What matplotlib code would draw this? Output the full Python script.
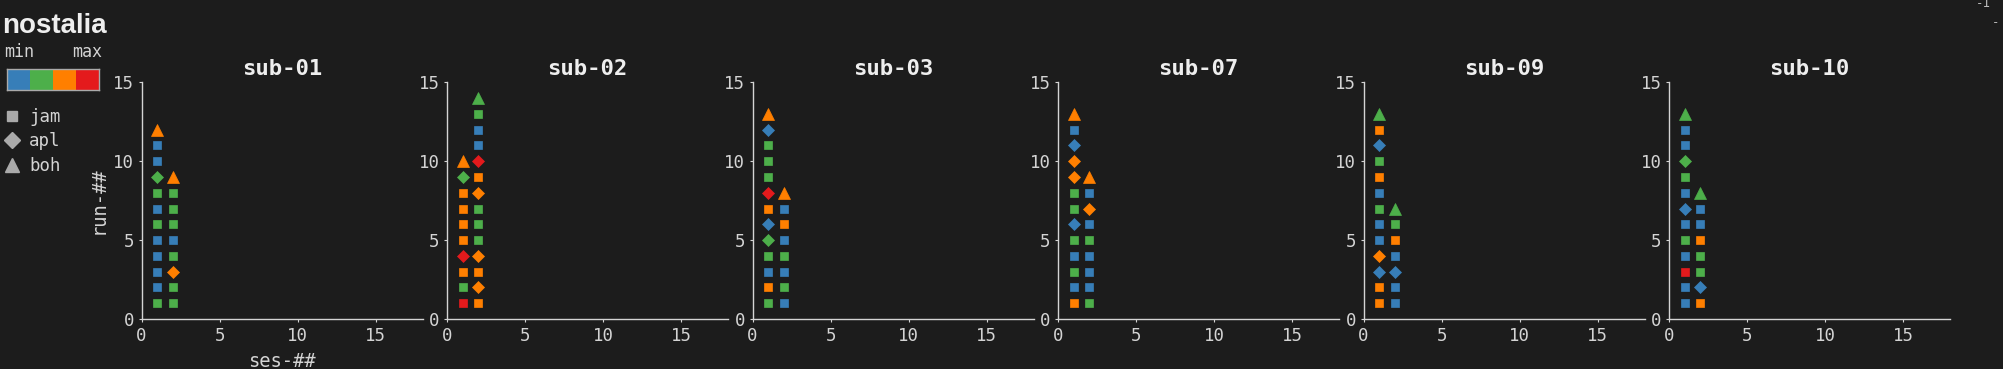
import matplotlib
matplotlib.use("Agg")
import matplotlib.pyplot as plt
from matplotlib.colors import ListedColormap
from matplotlib.lines import Line2D

# ---------------- DATA ----------------
# level: 0=min (blue) .. 3=max (red); task: j=jam, a=apl, b=boh

subjects = ["sub-01", "sub-02", "sub-03", "sub-07", "sub-09", "sub-10"]

sub01_ses1_lvl = [1, 0, 0, 0, 0, 1, 0, 1, 1, 0, 0, 2]
sub01_ses1_task = "jjjjjjjjajjb"
sub01_ses2_lvl = [1, 1, 2, 1, 0, 1, 1, 1, 2]
sub01_ses2_task = "jjajjjjjb"

sub02_ses1_lvl = [3, 1, 2, 3, 2, 2, 2, 2, 1, 2]
sub02_ses1_task = "jjjajjjjab"
sub02_ses2_lvl = [2, 2, 2, 2, 1, 1, 1, 2, 2, 3, 0, 0, 1, 1]
sub02_ses2_task = "jajajjjajajjjb"

sub03_ses1_lvl = [1, 2, 0, 1, 1, 0, 2, 3, 1, 1, 1, 0, 2]
sub03_ses1_task = "jjjjaajajjjab"
sub03_ses2_lvl = [0, 1, 0, 1, 0, 2, 0, 2]
sub03_ses2_task = "jjjjjjjb"

sub07_ses1_lvl = [2, 0, 1, 0, 1, 0, 1, 1, 2, 2, 0, 0, 2]
sub07_ses1_task = "jjjjjajjaaajb"
sub07_ses2_lvl = [1, 0, 0, 0, 1, 0, 2, 0, 2]
sub07_ses2_task = "jjjjjjajb"

sub09_ses1_lvl = [2, 2, 0, 2, 0, 0, 1, 0, 2, 1, 0, 2, 1]
sub09_ses1_task = "jjaajjjjjjajb"
sub09_ses2_lvl = [0, 0, 0, 0, 2, 1, 1]
sub09_ses2_task = "jjajjjb"

sub10_ses1_lvl = [0, 0, 3, 0, 1, 0, 0, 0, 1, 1, 0, 0, 1]
sub10_ses1_task = "jjjjjjajjajjb"
sub10_ses2_lvl = [2, 0, 1, 1, 2, 0, 0, 1]
sub10_ses2_task = "jajjjjjb"

sessions = {
    "sub-01": [(sub01_ses1_lvl, sub01_ses1_task), (sub01_ses2_lvl, sub01_ses2_task)],
    "sub-02": [(sub02_ses1_lvl, sub02_ses1_task), (sub02_ses2_lvl, sub02_ses2_task)],
    "sub-03": [(sub03_ses1_lvl, sub03_ses1_task), (sub03_ses2_lvl, sub03_ses2_task)],
    "sub-07": [(sub07_ses1_lvl, sub07_ses1_task), (sub07_ses2_lvl, sub07_ses2_task)],
    "sub-09": [(sub09_ses1_lvl, sub09_ses1_task), (sub09_ses2_lvl, sub09_ses2_task)],
    "sub-10": [(sub10_ses1_lvl, sub10_ses1_task), (sub10_ses2_lvl, sub10_ses2_task)],
}

level_colors = ["#377eb8", "#4daf4a", "#ff7f00", "#e41a1c"]
task_names = {"j": "jam", "a": "apl", "b": "boh"}
task_markers = {"j": "s", "a": "D", "b": "^"}
task_sizes = {"j": 6.0, "a": 6.5, "b": 8.5}

# ---------------- STYLE ----------------

BG = "#1c1c1c"
FG = "#d4d4d4"
MONO = "DejaVu Sans Mono"

plt.rcParams["font.family"] = MONO
plt.rcParams["axes.edgecolor"] = FG
plt.rcParams["xtick.color"] = FG
plt.rcParams["ytick.color"] = FG

fig = plt.figure(figsize=(20.03, 3.69), dpi=100, facecolor=BG)

# ---------------- PANELS ----------------

for i, sub in enumerate(subjects):
    ax = fig.add_axes([0.0707 + i * 0.15252, 0.1355, 0.1403, 0.6415])
    ax.set_facecolor(BG)
    for ses, (lvls, tasks) in enumerate(sessions[sub], start=1):
        for run, (lv, t) in enumerate(zip(lvls, tasks), start=1):
            ax.plot(ses, run, marker=task_markers[t], ms=task_sizes[t],
                    color=level_colors[lv], mec=level_colors[lv], mew=0.5,
                    linestyle="none")
    ax.set_xlim(0, 18)
    ax.set_ylim(0, 15)
    ax.set_xticks([0, 5, 10, 15])
    ax.set_yticks([0, 5, 10, 15])
    for s in ["top", "right"]:
        ax.spines[s].set_visible(False)
    ax.spines["left"].set_linewidth(1)
    ax.spines["bottom"].set_linewidth(1)
    ax.tick_params(length=2.5, width=0.8, pad=3, labelsize=12.5, labelcolor=FG)
    ax.set_title(sub, color="#eeeeee", fontsize=16, fontweight="bold", pad=5)
    if i == 0:
        ax.set_xlabel("ses-##", color=FG, fontsize=13.5, labelpad=5)
        ax.set_ylabel("run-##", color=FG, fontsize=13.5, labelpad=4)

# ---------------- LEGEND ----------------

fig.text(2 / 2003, 1 - 33 / 369, "nostalia", family="Liberation Sans",
         fontweight="bold", fontsize=20, color="#eeeeee", va="baseline")
fig.text(4 / 2003, 1 - 57 / 369, "min", color=FG, fontsize=12, va="baseline")
fig.text(102 / 2003, 1 - 57 / 369, "max", color=FG, fontsize=12,
         va="baseline", ha="right")

cax = fig.add_axes([7 / 2003, 1 - 90 / 369, 92 / 2003, 21 / 369])
cax.imshow([[0, 1, 2, 3]], cmap=ListedColormap(level_colors), aspect="auto")
cax.set_xticks([])
cax.set_yticks([])
for s in cax.spines.values():
    s.set_color("#aaaaaa")
    s.set_linewidth(1)

handles = [Line2D([], [], marker=task_markers[k], ms=task_sizes[k] * 1.2,
                  color="#aaaaaa", linestyle="none", label=task_names[k])
           for k in ["j", "a", "b"]]
fig.legend(handles=handles, loc="upper left", bbox_to_anchor=(3 / 2003, 1 - 108 / 369),
           frameon=False, fontsize=12.5, labelcolor=FG, handlelength=1,
           handletextpad=0.5, labelspacing=0.37, borderpad=0, borderaxespad=0)

# clipped leftovers at the top right corner
fig.text(1983 / 2003, 1 - 7 / 369, "-1", color="#bbbbbb", fontsize=9,
         ha="center", va="baseline")
fig.text(1996 / 2003, 1 - 23 / 369, "-", color="#bbbbbb", fontsize=9,
         ha="center", va="center")

fig.savefig("out.png", dpi=100, facecolor=BG)
